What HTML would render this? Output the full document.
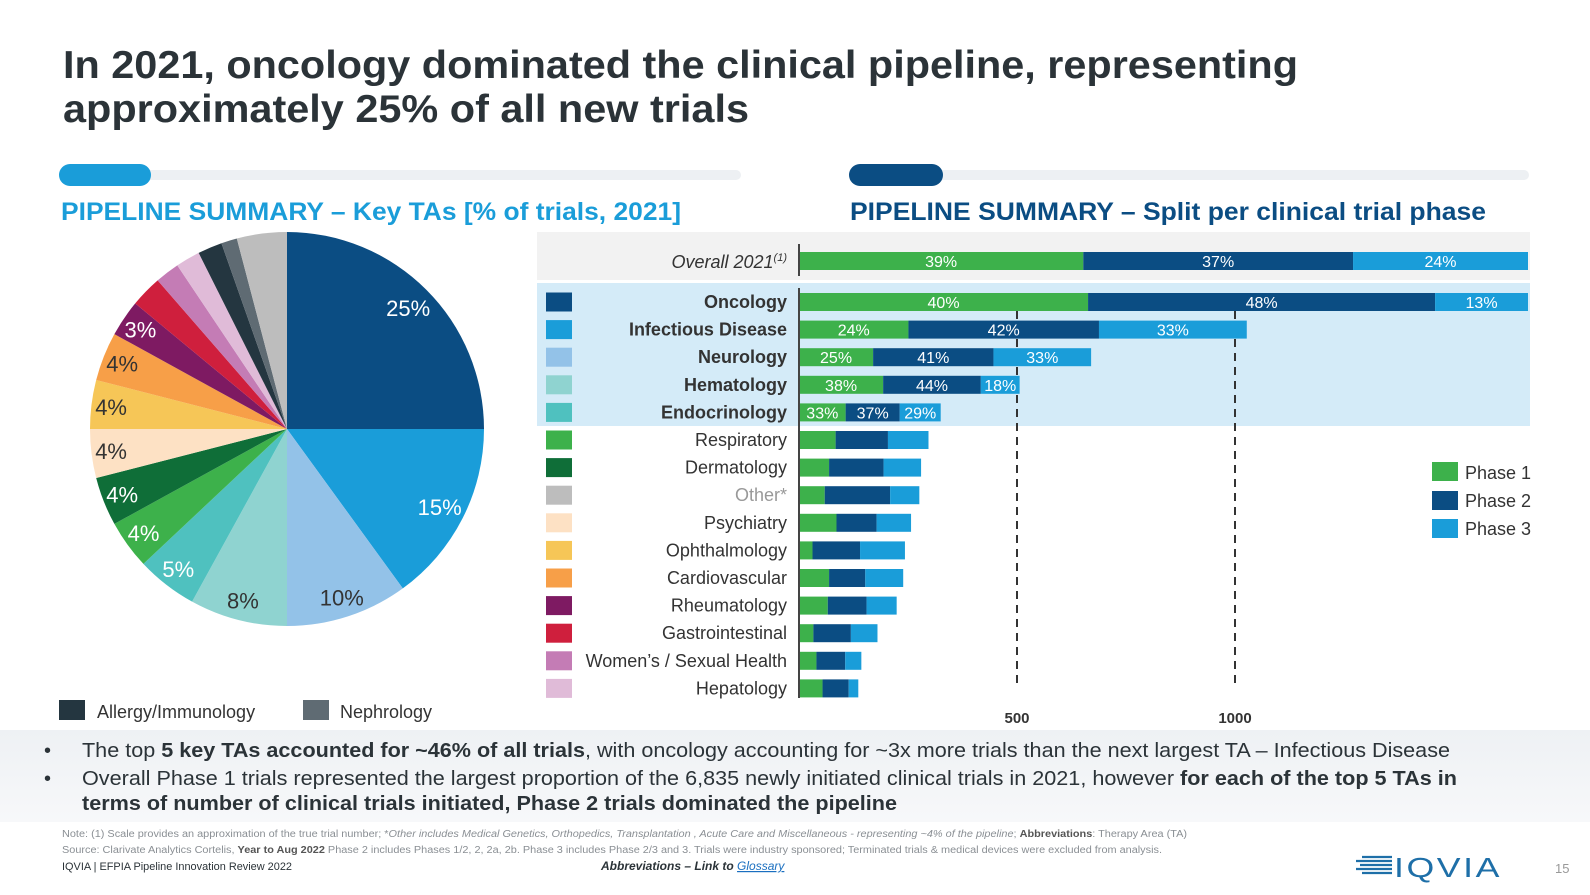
<!DOCTYPE html>
<html><head><meta charset="utf-8"><style>
html,body{margin:0;padding:0;background:#fff;}
svg{display:block;font-family:"Liberation Sans",Arial,sans-serif;}
</style></head><body>
<svg id="c" width="1590" height="895" viewBox="0 0 1590 895" xmlns="http://www.w3.org/2000/svg">
<g fill="#2b3338" font-weight="bold" font-size="39">
<text x="63" y="78" textLength="1235" lengthAdjust="spacingAndGlyphs">In 2021, oncology dominated the clinical pipeline, representing</text>
<text x="63" y="122" textLength="686" lengthAdjust="spacingAndGlyphs">approximately 25% of all new trials</text>
</g>
<rect x="59" y="170" width="682" height="10" rx="5" fill="#edf0f3"/>
<rect x="59" y="164" width="92" height="22" rx="11" fill="#1a9dd9"/>
<rect x="849" y="170" width="680" height="10" rx="5" fill="#edf0f3"/>
<rect x="849" y="164" width="94" height="22" rx="11" fill="#0b4d83"/>
<text x="61" y="220" font-size="25" font-weight="bold" fill="#1a9dd9" textLength="620" lengthAdjust="spacingAndGlyphs">PIPELINE SUMMARY – Key TAs [% of trials, 2021]</text>
<text x="850" y="220" font-size="25" font-weight="bold" fill="#0b4d83" textLength="636" lengthAdjust="spacingAndGlyphs">PIPELINE SUMMARY – Split per clinical trial phase</text>

<rect x="537" y="232" width="993" height="48" fill="#f2f2f2"/>
<rect x="537" y="283" width="993" height="143" fill="#d4ebf8"/>

<g id="pie"></g>
<g id="bars"></g>

<g font-size="18" fill="#333">
<rect x="59" y="700" width="26" height="20" fill="#243640"/>
<text x="97" y="718">Allergy/Immunology</text>
<rect x="303" y="700" width="26" height="20" fill="#5f6b73"/>
<text x="340" y="718">Nephrology</text>
</g>

<g font-size="18" fill="#333">
<rect x="1432" y="462" width="26" height="19" fill="#3db14b"/>
<text x="1465" y="479">Phase 1</text>
<rect x="1432" y="491" width="26" height="19" fill="#0b4d83"/>
<text x="1465" y="507">Phase 2</text>
<rect x="1432" y="519" width="26" height="19" fill="#1a9dd9"/>
<text x="1465" y="535">Phase 3</text>
</g>

<defs><linearGradient id="bandg" x1="0" y1="0" x2="0" y2="1"><stop offset="0" stop-color="#eef1f4"/><stop offset="1" stop-color="#f7f8fa"/></linearGradient></defs>
<rect x="0" y="730" width="1590" height="92" fill="url(#bandg)"/>
<g font-size="20" fill="#2b3338">
<text x="44" y="757">•</text><text x="44" y="785">•</text>
<text x="82" y="757" textLength="1368" lengthAdjust="spacingAndGlyphs">The top <tspan font-weight="bold">5 key TAs accounted for ~46% of all trials</tspan>, with oncology accounting for ~3x more trials than the next largest TA – Infectious Disease</text>
<text x="82" y="785" textLength="1375" lengthAdjust="spacingAndGlyphs">Overall Phase 1 trials represented the largest proportion of the 6,835 newly initiated clinical trials in 2021, however <tspan font-weight="bold">for each of the top 5 TAs in</tspan></text>
<text x="82" y="810" font-weight="bold" textLength="815" lengthAdjust="spacingAndGlyphs">terms of number of clinical trials initiated, Phase 2 trials dominated the pipeline</text>
</g>
<g font-size="10" fill="#8a8f94">
<text x="62" y="837" textLength="1125" lengthAdjust="spacingAndGlyphs">Note: (1) Scale provides an approximation of the true trial number; *<tspan font-style="italic">Other includes Medical Genetics, Orthopedics, Transplantation , Acute Care and Miscellaneous - representing ~4% of the pipeline</tspan>; <tspan font-weight="bold" fill="#555">Abbreviations</tspan>: Therapy Area (TA)</text>
<text x="62" y="853" textLength="1100" lengthAdjust="spacingAndGlyphs">Source: Clarivate Analytics Cortelis, <tspan font-weight="bold" fill="#555">Year to Aug 2022</tspan> Phase 2 includes Phases 1/2, 2, 2a, 2b. Phase 3 includes Phase 2/3 and 3. Trials were industry sponsored; Terminated trials &amp; medical devices were excluded from analysis.</text>
<text x="62" y="870" fill="#2b3338" font-size="11" textLength="230" lengthAdjust="spacingAndGlyphs">IQVIA | EFPIA Pipeline Innovation Review 2022</text>
<text x="601" y="870" fill="#2b3338" font-size="12" font-style="italic" font-weight="bold">Abbreviations – Link to <tspan fill="#1a6fc0" text-decoration="underline" font-weight="normal">Glossary</tspan></text>
</g>
<g>
<g stroke="#1e6fa8" stroke-width="2.2">
<line x1="1362" y1="857" x2="1392" y2="857"/><line x1="1356" y1="861" x2="1392" y2="861"/><line x1="1360" y1="865" x2="1392" y2="865"/><line x1="1356" y1="869" x2="1392" y2="869"/><line x1="1362" y1="873" x2="1392" y2="873"/>
</g>
<text x="1394" y="877" font-size="28" fill="#1e6fa8" textLength="108" lengthAdjust="spacingAndGlyphs" letter-spacing="2">IQVIA</text>
</g>
<text x="1555" y="873" font-size="13" fill="#999">15</text>
</svg>
<script>
// ---------- Pie data ----------
const pieCategories = ["Oncology","Infectious Disease","Neurology","Hematology","Endocrinology","Respiratory","Dermatology","Psychiatry","Ophthalmology","Cardiovascular","Rheumatology","Gastrointestinal","Women's / Sexual Health","Hepatology","Allergy/Immunology","Nephrology","Other"];
const pieValues = [25,15,10,8,5,4,4,4,4,4,3,2.6,2,2,2,1.3,4.1];
const pieLabels = ["25%","15%","10%","8%","5%","4%","4%","4%","4%","4%","3%","","","","","",""];
const pieColors = ["#0b4d83","#1a9dd9","#93c2e8","#8fd3d0","#4fc1bf","#3db14b","#0f6e38","#fde1c4","#f6c657","#f79f48","#7e1a62","#cf1f3d","#c47cb5","#e0bbd8","#243640","#5f6b73","#bdbdbd"];
const pieLabelDark = [false,false,true,true,false,false,false,true,true,true,false];

// ---------- Bar data (approx. trial counts) ----------
const barCategories = ["Oncology","Infectious Disease","Neurology","Hematology","Endocrinology","Respiratory","Dermatology","Other*","Psychiatry","Ophthalmology","Cardiovascular","Rheumatology","Gastrointestinal","Women’s / Sexual Health","Hepatology"];
const phase1 = [663,251,170,193,107,84,69,59,86,31,69,66,33,40,54];
const phase2 = [796,437,276,224,124,120,125,150,92,109,83,89,86,66,60];
const phase3 = [213,339,224,89,94,93,86,67,79,103,87,69,61,37,22];
const phase1Labels = ["40%","24%","25%","38%","33%"];
const phase2Labels = ["48%","42%","41%","44%","37%"];
const phase3Labels = ["13%","33%","33%","18%","29%"];
const overallShares = [39,37,24];
const overallLabels = ["39%","37%","24%"];
const tickValues = [500,1000];
const tickLabels = ["500","1000"];
const barSwatches = ["#0b4d83","#1a9dd9","#93c2e8","#8fd3d0","#4fc1bf","#3db14b","#0f6e38","#bdbdbd","#fde1c4","#f6c657","#f79f48","#7e1a62","#cf1f3d","#c47cb5","#e0bbd8"];

const NS="http://www.w3.org/2000/svg";
function mk(tag,attrs,parent){const e=document.createElementNS(NS,tag);for(const k in attrs)e.setAttribute(k,attrs[k]);parent.appendChild(e);return e;}

// pie
const pie=document.getElementById('pie');
const cx=287,cy=429,R=197;
const total=pieValues.reduce((a,b)=>a+b,0);
let acc=0;
pieValues.forEach((v,i)=>{
  const a0=acc/total*2*Math.PI, a1=(acc+v)/total*2*Math.PI; acc+=v;
  const x0=cx+R*Math.sin(a0),y0=cy-R*Math.cos(a0),x1=cx+R*Math.sin(a1),y1=cy-R*Math.cos(a1);
  const large=(a1-a0)>Math.PI?1:0;
  const p=mk('path',{d:`M${cx},${cy} L${x0},${y0} A${R},${R} 0 ${large} 1 ${x1},${y1} Z`,fill:pieColors[i]},pie);
  
  
  if(pieLabels[i]){
    const am=(a0+a1)/2, rr=i<2?0.87:0.9;
    const t=mk('text',{x:cx+R*rr*Math.sin(am),y:cy-R*rr*Math.cos(am)+8,'text-anchor':'middle','font-size':'22',fill:pieLabelDark[i]?'#333':'#fff'},pie);
    t.textContent=pieLabels[i];
    
    
  }
});

// bars
const bars=document.getElementById('bars');
const x0=799, pxPer=218/500;
const xs=v=>x0+v*pxPer;
const rowY=i=>302+i*27.6;
const bh=18;
const colors=["#3db14b","#0b4d83","#1a9dd9"];
tickValues.forEach((tv,i)=>{
  const l=mk('line',{x1:xs(tv),x2:xs(tv),y1:311,y2:685,stroke:'#333','stroke-width':'2','stroke-dasharray':'8,6'},bars);
  
  
  const t=mk('text',{x:xs(tv),y:723,'text-anchor':'middle','font-size':'15','font-weight':'bold',fill:'#333'},bars);
  t.textContent=tickLabels[i];
  
  
});
const ow=1528-x0; let oc=0;
overallShares.forEach((s,j)=>{
  const w=s/100*ow;
  const r=mk('rect',{x:x0+oc*ow/100,y:261-bh/2,width:w,height:bh,fill:colors[j]},bars);
  
  
  const t=mk('text',{x:x0+oc*ow/100+w/2,y:267,'text-anchor':'middle','font-size':'16',fill:'#fff'},bars);
  t.textContent=overallLabels[j];
  
  
  oc+=s;
});
let tl=mk('text',{x:787,y:268,'text-anchor':'end','font-size':'18','font-style':'italic',fill:'#333'},bars);
tl.innerHTML='Overall 2021<tspan font-size="11" dy="-7">(1)</tspan>';


let ax=mk('line',{x1:x0,x2:x0,y1:244,y2:276,stroke:'#444','stroke-width':'2'},bars);



const ser=[phase1,phase2,phase3], serLab=[phase1Labels,phase2Labels,phase3Labels];
barCategories.forEach((c,i)=>{
  const y=rowY(i); let cum=0;
  ser.forEach((s,j)=>{
    const r=mk('rect',{x:xs(cum),y:y-bh/2,width:s[i]*pxPer,height:bh,fill:colors[j]},bars);
    
    
    if(i<5){
      const t=mk('text',{x:xs(cum+s[i]/2),y:y+6,'text-anchor':'middle','font-size':'16',fill:'#fff'},bars);
      t.textContent=serLab[j][i];
      
      
    }
    cum+=s[i];
  });
  const sw=mk('rect',{x:546,y:y-9.5,width:26,height:19,fill:barSwatches[i]},bars);
  
  
  const t=mk('text',{x:787,y:y+6,'text-anchor':'end','font-size':'18',fill:i===7?'#999':'#333','font-weight':i<5?'bold':'normal'},bars);
  t.textContent=c;
  
  
});
let ax2=mk('line',{x1:x0,x2:x0,y1:288,y2:698,stroke:'#444','stroke-width':'2'},bars);


</script>
</body></html>
